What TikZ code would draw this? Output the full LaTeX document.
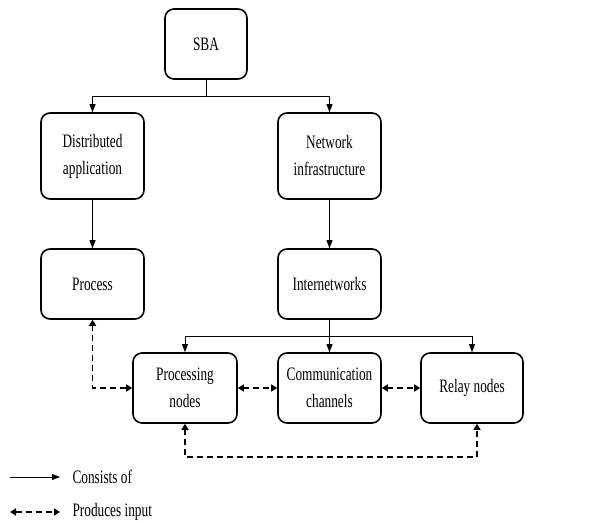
\documentclass[tikz,border=0pt]{standalone}
\usepackage{fontspec}
\setmainfont{Liberation Serif}[FakeStretch=0.7]
\usetikzlibrary{arrows.meta}
\begin{document}
\begin{tikzpicture}[x=1pt,y=1pt,
  box/.style={draw,line width=1.6pt,rounded corners=9pt,align=center,inner sep=0pt},
  cons/.style={line width=0.8pt,-{Triangle[length=8pt,width=6pt]}},
  prod/.style={line width=1.6pt,dash pattern=on 6pt off 4pt,{Triangle[length=6pt,width=7pt]}-{Triangle[length=6pt,width=7pt]}}]
\useasboundingbox (0,0) rectangle (597,523);
\fontsize{19}{27}\selectfont
\node (sba) [box,minimum width=82pt,minimum height=70pt] at (206,479) {SBA};
\node (dist) [box,minimum width=103pt,minimum height=86pt] at (92.5,367) {Distributed\\application};
\node (net) [box,minimum width=103pt,minimum height=86pt] at (329.5,367) {Network\\infrastructure};
\node (proc) [box,minimum width=103pt,minimum height=70pt] at (92.5,239) {Process};
\node (inet) [box,minimum width=103pt,minimum height=70pt] at (329.5,239) {Internetworks};
\node (pn) [box,minimum width=104pt,minimum height=70pt] at (185,135) {Processing\\nodes};
\node (comm) [box,minimum width=103pt,minimum height=70pt] at (329.5,135) {Communication\\channels};
\node (relay) [box,minimum width=102pt,minimum height=70pt] at (472,135) {Relay nodes};
% solid tree
\coordinate (top) at (206,427);
\draw[line width=0.8pt] (sba) -- (top);
\draw[cons] (top) -| (dist);
\draw[cons] (top) -| (net);
\draw[cons] (dist) -- (proc);
\draw[cons] (net) -- (inet);
\coordinate (mid) at (329.5,187);
\draw[line width=0.8pt] (inet) -- (mid);
\draw[cons] (mid) -| (pn);
\draw[cons] (mid) -- (comm);
\draw[cons] (mid) -| (relay);
% dashed inputs
\draw[prod] (proc) |- (pn);
\draw[prod] (pn) -- (comm);
\draw[prod] (comm) -- (relay);
\coordinate (low) at (0,66);
\draw[prod] (pn.south) -- (pn.south |- low) -| ([xshift=5pt]relay.south);
% legend
\coordinate (la) at (10,46);
\coordinate (lb) at (60,46);
\coordinate (lc) at (10,11);
\coordinate (ld) at (60,11);
\draw[cons] (la) -- (lb);
\draw[prod] (lc) -- (ld);
\node (lcons) [anchor=west] at (66,46) {Consists of};
\node (lprod) [anchor=west] at (66,11) {Produces input};
\end{tikzpicture}
\end{document}
